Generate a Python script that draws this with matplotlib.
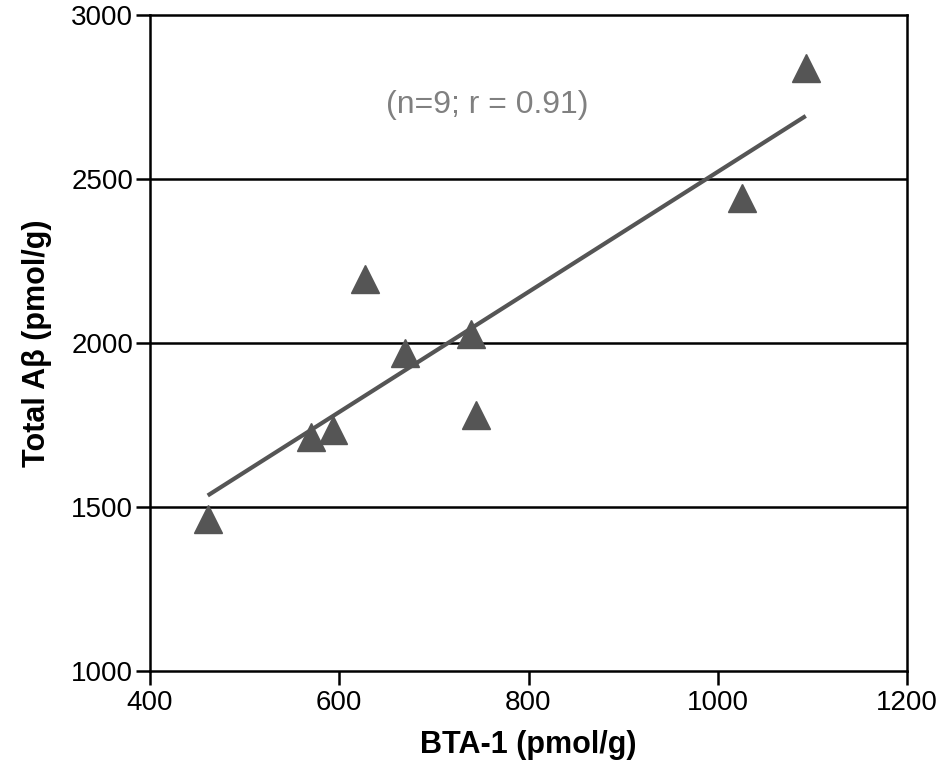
import numpy as np
import matplotlib
matplotlib.use("Agg")
import matplotlib.pyplot as plt

# values
bta1 = [461, 570, 593, 627, 670, 739, 744, 1026, 1093]
total_abeta = [1463, 1713, 1735, 2195, 1969, 2027, 1780, 2442, 2838]
x_ticks = [400, 600, 800, 1000, 1200]
y_ticks = [1000, 1500, 2000, 2500, 3000]
note = "(n=9; r = 0.91)"

plt.rcParams['font.family'] = ['Liberation Sans', 'DejaVu Sans']

fig = plt.figure(figsize=(9.44, 7.72), dpi=100)
ax = fig.add_axes([150 / 944, 1 - 671 / 772, 757 / 944, 656 / 772])

x = np.array(bta1, dtype=float)
y = np.array(total_abeta, dtype=float)

# horizontal grid lines
for yy in y_ticks[1:-1]:
    ax.axhline(yy, color='black', lw=1.8, zorder=1)

# linear fit
slope, icpt = np.polyfit(x, y, 1)
xs = np.array([x.min(), x.max()])
ax.plot(xs, slope * xs + icpt, color='#555555', lw=3, solid_capstyle='butt', zorder=2)

ax.plot(x, y, linestyle='none', marker='^', ms=20, color='#555555', zorder=3)

ax.text(756, 2726, note, ha='center', va='center', fontsize=23, color='#808080')

ax.set_xlim(400, 1200)
ax.set_ylim(1000, 3000)
ax.set_xticks(x_ticks)
ax.set_yticks(y_ticks)
ax.tick_params(direction='out', length=10, width=1.8, labelsize=20)
ax.tick_params(axis='y', pad=2)
ax.tick_params(axis='x', pad=4)
for s in ax.spines.values():
    s.set_linewidth(1.8)

ax.set_xlabel("BTA-1 (pmol/g)", fontsize=22, fontweight='bold', labelpad=10)
ax.set_ylabel("Total A\u03b2 (pmol/g)", fontsize=22, fontweight='bold', labelpad=14)

fig.savefig("out.png", dpi=100)
